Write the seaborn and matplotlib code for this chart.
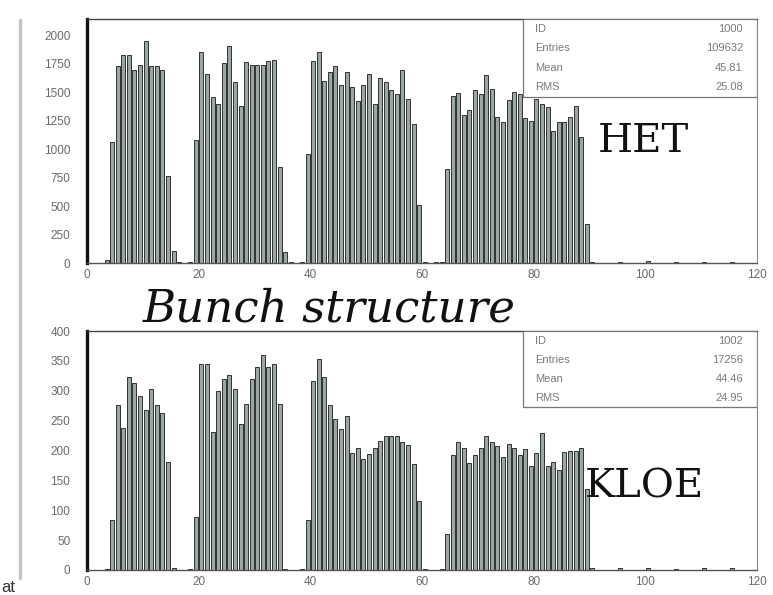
import numpy as np
import pandas as pd
import matplotlib
matplotlib.use("Agg")
import matplotlib.pyplot as plt
import seaborn as sns
from matplotlib.ticker import MultipleLocator
from matplotlib.patches import Rectangle
from matplotlib.lines import Line2D

# ---------------- data ----------------
# bunch number k is filled into the bin [k, k+1)
bunches = list(range(3, 91)) + [95, 100, 105, 110, 115]

het_counts = [
    24, 1058, 1732, 1826, 1826, 1693, 1737, 1944, 1732, 1732, 1693, 762, 106,   # 3-15
    8, 4, 10,                                                                     # 16-18
    1081, 1852, 1656, 1454, 1395, 1752, 1908, 1587, 1378, 1760, 1737, 1737,      # 19-30
    1737, 1775, 1782, 842, 97,                                                   # 31-35
    6, 4, 12,                                                                     # 36-38
    955, 1773, 1850, 1596, 1672, 1732, 1566, 1678, 1546, 1418, 1560, 1655,       # 39-50
    1398, 1620, 1590, 1516, 1487, 1693, 1436, 1221, 511,                         # 51-59
    10, 4, 6, 8,                                                                  # 60-63
    822, 1463, 1490, 1303, 1339, 1522, 1487, 1649, 1531, 1279, 1235, 1427,       # 64-75
    1501, 1487, 1274, 1250, 1442, 1398, 1368, 1161, 1235, 1235, 1279, 1374,      # 76-87
    1102, 338, 12,                                                               # 88-90
    10, 14, 8, 8, 6,                                                              # 95-115
]

kloe_counts = [
    2, 84, 276, 238, 323, 313, 292, 268, 303, 276, 263, 181, 3,                  # 3-15
    0, 0, 1,                                                                      # 16-18
    89, 344, 344, 231, 300, 319, 326, 303, 244, 278, 319, 340,                   # 19-30
    360, 340, 345, 277, 2,                                                        # 31-35
    0, 0, 1,                                                                      # 36-38
    84, 317, 353, 323, 276, 253, 236, 258, 195, 205, 185, 194,                   # 39-50
    205, 216, 224, 224, 224, 214, 209, 178, 115,                                  # 51-59
    2, 0, 0, 1,                                                                   # 60-63
    60, 192, 215, 205, 179, 192, 204, 224, 215, 208, 189, 211,                   # 64-75
    204, 192, 202, 174, 196, 230, 174, 181, 168, 198, 199, 199,                  # 76-87
    205, 135, 4,                                                                  # 88-90
    3, 4, 2, 3, 3,                                                                # 95-115
]

x_ticks = [0, 20, 40, 60, 80, 100, 120]
het_yticks = [0, 250, 500, 750, 1000, 1250, 1500, 1750, 2000]
kloe_yticks = [0, 50, 100, 150, 200, 250, 300, 350, 400]

stat_names = ["ID", "Entries", "Mean", "RMS"]
het_stats = ["1000", "109632", "45.81", "25.08"]
kloe_stats = ["1002", "17256", "44.46", "24.95"]

# ---------------- style ----------------
sns.set_style("white")
plt.rcParams["font.family"] = ["Liberation Sans", "DejaVu Sans"]

BAR_FILL = "#9ca7a5"
BAR_EDGE = "#2e3433"
TICK_LABEL = "#6a6a6a"
STAT_TEXT = "#7a7a7a"

W, H = 773, 595
fig = plt.figure(figsize=(W / 100, H / 100), dpi=100)
fig.patch.set_facecolor("white")


def px_axes(left, top, right, bottom):
    return fig.add_axes([left / W, 1 - bottom / H, (right - left) / W, (bottom - top) / H])


ax_top = px_axes(87, 19, 757, 263)
ax_bot = px_axes(87, 331, 757, 570)


def draw_panel(ax, counts, ymax, yticks, yminor, stats):
    df = pd.DataFrame({"bunch": np.asarray(bunches) + 0.5, "counts": counts})
    sns.histplot(data=df, x="bunch", weights="counts", binwidth=1, binrange=(0, 120),
                 shrink=0.72, color=BAR_FILL, edgecolor=BAR_EDGE, linewidth=0.7,
                 alpha=1.0, ax=ax)
    ax.set_xlim(0, 120)
    ax.set_ylim(0, ymax)
    ax.set_xlabel("")
    ax.set_ylabel("")
    ax.set_xticks(x_ticks)
    ax.set_xticklabels([str(t) for t in x_ticks])
    ax.set_yticks(yticks)
    ax.set_yticklabels([str(t) for t in yticks])
    ax.xaxis.set_minor_locator(MultipleLocator(5))
    ax.yaxis.set_minor_locator(MultipleLocator(yminor))
    ax.tick_params(axis="both", which="both", direction="in", color="#333333",
                   labelcolor=TICK_LABEL, labelsize=8.5, top=False, right=False)
    ax.tick_params(axis="y", which="major", length=8, width=0.9, pad=12)
    ax.tick_params(axis="y", which="minor", length=4, width=0.6)
    ax.tick_params(axis="x", which="major", length=4, width=0.8, pad=4)
    ax.tick_params(axis="x", which="minor", length=2.5, width=0.6)

    ax.spines["left"].set_linewidth(2.4)
    ax.spines["left"].set_color("#111111")
    ax.spines["bottom"].set_linewidth(1.0)
    ax.spines["bottom"].set_color("#555555")
    ax.spines["top"].set_linewidth(1.0)
    ax.spines["top"].set_color("#444444")
    ax.spines["right"].set_linewidth(0.8)
    ax.spines["right"].set_color("#8a8a8a")

    # statistics box in the upper right corner
    box_left, box_bottom = 0.651, 0.68
    ax.add_patch(Rectangle((box_left, box_bottom), 1 - box_left, 1 - box_bottom,
                           transform=ax.transAxes, facecolor="white",
                           edgecolor="#777777", linewidth=0.9, zorder=5))
    row_h = (1 - box_bottom) / 4
    for i, (name, val) in enumerate(zip(stat_names, stats)):
        yy = 1 - row_h * (i + 0.5)
        ax.text(box_left + 0.018, yy, name, transform=ax.transAxes, ha="left",
                va="center", fontsize=8, color=STAT_TEXT, zorder=6)
        ax.text(0.979, yy, val, transform=ax.transAxes, ha="right",
                va="center", fontsize=8, color=STAT_TEXT, zorder=6)


draw_panel(ax_top, het_counts, 2141, het_yticks, 50, het_stats)
draw_panel(ax_bot, kloe_counts, 400, kloe_yticks, 10, kloe_stats)

# detector labels and title
fig.text(598 / W, 1 - 152 / H, "HET", family="DejaVu Serif", fontsize=29,
         ha="left", va="baseline", color="#111111")
fig.text(585 / W, 1 - 498 / H, "KLOE", family="DejaVu Serif", fontsize=29,
         ha="left", va="baseline", color="#111111", zorder=10)
fig.text(143 / W, 1 - 321 / H, "Bunch structure", family="DejaVu Serif",
         style="italic", fontsize=32.5, ha="left", va="baseline", color="#111111")

# page edge on the left and a word at the lower left corner
fig.add_artist(Line2D([20 / W, 20 / W], [1 - 20 / H, 1 - 578 / H],
                      color="#c4c4c4", linewidth=2.5))
fig.text(0.002, 1 - 592 / H, "at", fontsize=12, color="#333333",
         ha="left", va="baseline")

fig.savefig("out.png", dpi=100, facecolor="white")
